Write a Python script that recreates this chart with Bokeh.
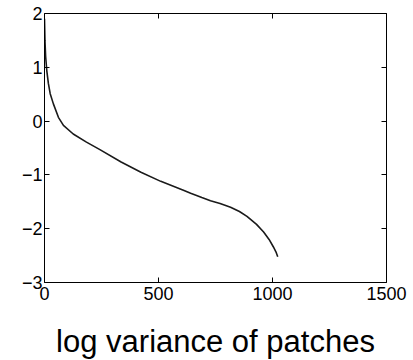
from bokeh.plotting import figure
from bokeh.models import Range1d, LinearAxis, FixedTicker
from bokeh.embed import file_html
from bokeh.resources import INLINE

# data
patch_idx = [0, 2, 5, 10, 17, 25, 39, 61, 83, 126, 184, 243, 336, 423, 510, 612, 641,
             690, 728, 770, 816, 855, 888, 930, 961, 985, 1004, 1015, 1023]
log_var = [1.9, 1.5, 1.2, 0.94, 0.7, 0.51, 0.32, 0.07, -0.08, -0.24, -0.39, -0.53, -0.76,
           -0.95, -1.12, -1.29, -1.34, -1.42, -1.48, -1.53, -1.60, -1.68, -1.77, -1.92,
           -2.06, -2.20, -2.34, -2.43, -2.52]

x_ticks = [0, 500, 1000, 1500]
y_ticks = [-3, -2, -1, 0, 1, 2]
y_labels = {-3: "\u22123", -2: "\u22122", -1: "\u22121", 0: "0", 1: "1", 2: "2"}
x_title = "log variance of patches"

FONT = "Liberation Sans"

p = figure(frame_width=342, frame_height=269, output_backend="svg", toolbar_location=None,
           x_range=Range1d(0, 1500), y_range=Range1d(-3, 2),
           min_border_left=44, min_border_right=27, min_border_top=13, min_border_bottom=78)
p.background_fill_color = "white"
p.border_fill_color = "white"
p.outline_line_color = None
p.xgrid.visible = False
p.ygrid.visible = False

p.line(patch_idx, log_var, line_color="#1a1a1a", line_width=1.6)

def style(ax, ticks, show_labels):
    ax.ticker = FixedTicker(ticks=ticks)
    ax.axis_line_color = "black"
    ax.axis_line_width = 1
    ax.major_tick_in = 5
    ax.major_tick_out = 0
    ax.major_tick_line_color = "black"
    ax.minor_tick_line_color = None
    if show_labels:
        ax.major_label_text_font = FONT
        ax.major_label_text_font_size = "18px"
        ax.major_label_text_color = "black"
    else:
        ax.major_label_overrides = {t: "" for t in ticks}
        ax.major_label_text_font_size = "1px"
        ax.major_label_standoff = 0

xa = p.xaxis[0]
style(xa, x_ticks, True)
xa.major_label_standoff = 4
xa.axis_label = x_title
xa.axis_label_text_font = FONT
xa.axis_label_text_font_size = "31px"
xa.axis_label_text_font_style = "normal"
xa.axis_label_text_color = "black"
xa.axis_label_standoff = 21

ya = p.yaxis[0]
style(ya, y_ticks, True)
ya.major_label_standoff = 2
ya.major_label_overrides = y_labels

top = LinearAxis()
style(top, x_ticks, False)
p.add_layout(top, "above")
right = LinearAxis()
style(right, y_ticks, False)
p.add_layout(right, "right")

open("out.html", "w").write(file_html(p, INLINE))
